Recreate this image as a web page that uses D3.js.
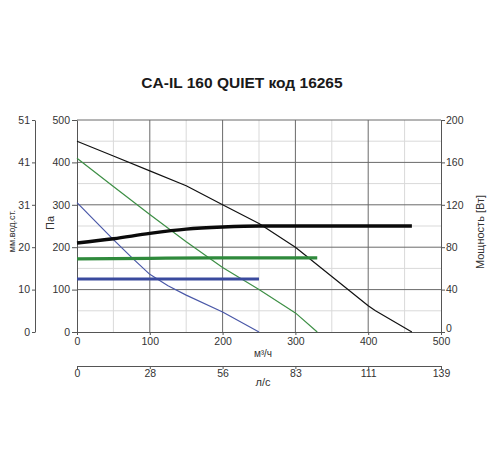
<!DOCTYPE html>
<html><head><meta charset="utf-8">
<script src="https://cdn.jsdelivr.net/npm/d3@7"></script>
<style>body{margin:0;background:#fff}svg{display:block}text{font-family:"Liberation Sans",Arial,sans-serif}</style>
</head><body>
<svg id="c" width="500" height="450"></svg>
<script>
const title = "CA-IL 160 QUIET код 16265";
const flowTicks = [0,100,200,300,400,500];
const paTicks = [0,100,200,300,400,500];
const wTicks = [0,40,80,120,160,200];
const mmTickLabels = ["0","10","20","31","41","51"];
const lsTickLabels = ["0","28","56","83","111","139"];

// pressure curves (m3/h, Pa)
const blackPressure = [[0,450],[50,415],[100,380],[150,345],[200,300],[250,256],[300,200],[350,131],[400,62],[410,50],[460,0]];
const greenPressure = [[0,410],[50,343],[100,277],[150,213],[200,152],[250,100],[300,45],[330,0]];
const bluePressure = [[0,305],[50,218],[75,176],[100,136],[125,109],[150,87],[200,47],[250,0]];
// power curves (m3/h, W)
const blackPower = [[0,84],[50,88],[100,93],[150,97],[200,99],[250,100],[300,100],[460,100]];
const greenPower = [[0,69],[100,69.5],[200,70],[330,70]];
const bluePower = [[0,50],[250,50]];

const svg = d3.select("#c");
const x = d3.scaleLinear().domain([0,500]).range([77,441]);
const y = d3.scaleLinear().domain([0,500]).range([332,120]);
const yw = d3.scaleLinear().domain([0,200]).range([332,120]);

// grid
const g = svg.append("g");
d3.range(50,500,100).forEach(v=>{
  g.append("line").attr("x1",x(v)).attr("x2",x(v)).attr("y1",y(0)).attr("y2",y(500)).attr("stroke","#d9d9d9").attr("stroke-width",1);
  g.append("line").attr("y1",y(v)).attr("y2",y(v)).attr("x1",x(0)).attr("x2",x(500)).attr("stroke","#d9d9d9").attr("stroke-width",1);
});
flowTicks.slice(1,5).forEach(v=>{
  g.append("line").attr("x1",x(v)).attr("x2",x(v)).attr("y1",y(0)).attr("y2",y(500)).attr("stroke","#6a6a6a").attr("stroke-width",1);
});
paTicks.slice(1).forEach(v=>{
  g.append("line").attr("y1",y(v)).attr("y2",y(v)).attr("x1",x(0)).attr("x2",x(500)).attr("stroke","#6a6a6a").attr("stroke-width",1);
});

function styleAxis(sel){
  sel.select(".domain").attr("stroke","#555");
  sel.selectAll(".tick line").attr("stroke","#555");
  sel.selectAll(".tick text").attr("fill","#333").style("font-size","10.5px");
}
// Pa axis
svg.append("g").attr("transform",`translate(${x(0)},0)`)
  .call(d3.axisLeft(y).tickValues(paTicks).tickSize(5).tickSizeOuter(0).tickPadding(2)).call(styleAxis);
// mm axis
svg.append("g").attr("transform","translate(35,0)")
  .call(d3.axisLeft(y).tickValues(paTicks).tickFormat((d,i)=>mmTickLabels[i]).tickSize(3).tickSizeOuter(0).tickPadding(2)).call(styleAxis);
// Power axis
const pAx = svg.append("g").attr("transform",`translate(${x(500)},0)`)
  .call(d3.axisRight(yw).tickValues(wTicks).tickSize(4).tickSizeOuter(0).tickPadding(1)).call(styleAxis);
pAx.selectAll(".tick text").filter(d=>d===0).attr("y",-3.5);
// flow axis
svg.append("g").attr("transform",`translate(0,${y(0)})`)
  .call(d3.axisBottom(x).tickValues(flowTicks).tickSize(3).tickSizeOuter(0).tickPadding(3)).call(styleAxis);
// l/s axis
svg.append("g").attr("transform","translate(0,366)")
  .call(d3.axisBottom(x).tickValues(flowTicks).tickFormat((d,i)=>lsTickLabels[i]).tickSize(3).tickSizeOuter(0).tickPadding(1)).call(styleAxis);

// curves
const lp = d3.line().x(d=>x(d[0])).y(d=>y(d[1]));
const lw = d3.line().x(d=>x(d[0])).y(d=>yw(d[1])).curve(d3.curveMonotoneX);
const curves = [
  [bluePressure,lp,"#4a58a8",1.2],[greenPressure,lp,"#3d8f45",1.2],[blackPressure,lp,"#111",1.2],
  [bluePower,lw,"#3a4a9e",3],[greenPower,lw,"#2f8a3c",3.2],[blackPower,lw,"#0a0a0a",3.4]
];
curves.forEach(([d,gen,c,w])=>{
  svg.append("path").attr("d",gen(d)).attr("fill","none").attr("stroke",c).attr("stroke-width",w).attr("stroke-linejoin","round");
});

// texts
svg.append("text").attr("x",242).attr("y",88).attr("text-anchor","middle").style("font-size","15.5px").style("font-weight","bold").attr("fill","#1a1a1a").text(title);
svg.append("text").attr("transform","translate(15,231) rotate(-90)").attr("text-anchor","middle").style("font-size","9px").attr("fill","#333").text("мм.вод.ст.");
svg.append("text").attr("transform","translate(54,223) rotate(-90)").attr("text-anchor","middle").style("font-size","11px").attr("fill","#333").text("Па");
svg.append("text").attr("transform","translate(484,232) rotate(-90)").attr("text-anchor","middle").style("font-size","11px").attr("fill","#333").text("Мощность [Вт]");
svg.append("text").attr("x",263).attr("y",357).attr("text-anchor","middle").style("font-size","10px").attr("fill","#333").text("м³/ч");
svg.append("text").attr("x",263).attr("y",386).attr("text-anchor","middle").style("font-size","11px").attr("fill","#333").text("л/с");
</script>
</body></html>
